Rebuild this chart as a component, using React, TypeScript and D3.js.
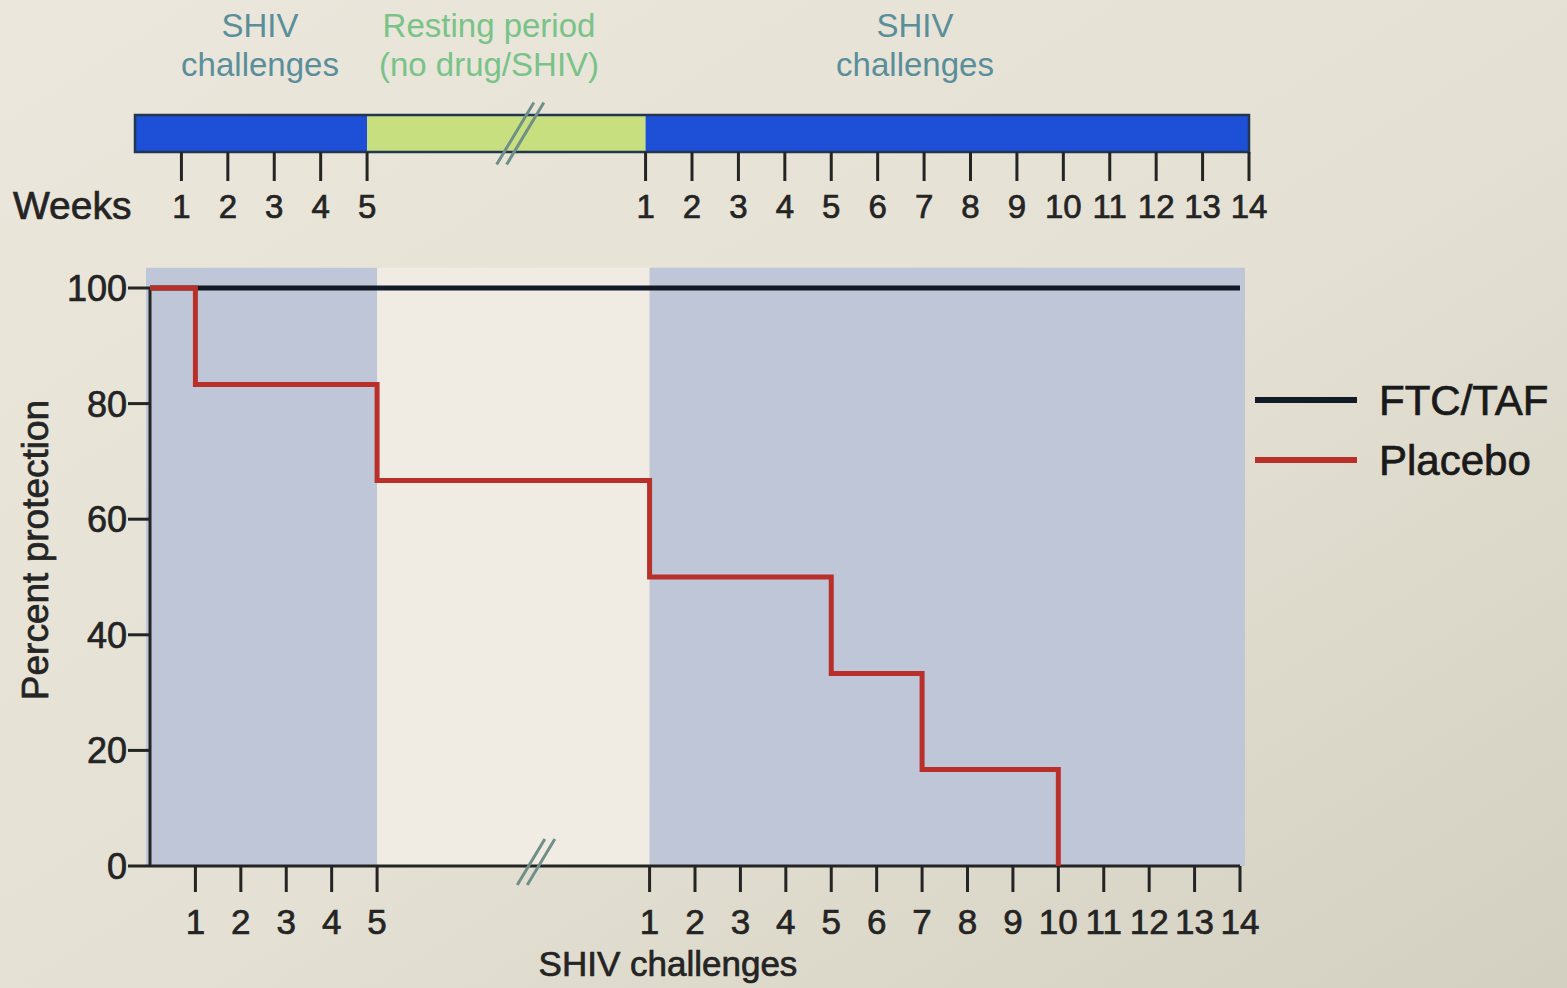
import React, { useEffect } from "react";
import * as d3 from "d3";

// ---- data ----
const yTicks = [0, 20, 40, 60, 80, 100];
const phase1Weeks = [1, 2, 3, 4, 5];
const phase2Weeks = [1, 2, 3, 4, 5, 6, 7, 8, 9, 10, 11, 12, 13, 14];
const PHASE2_OFFSET = 10; // phase 2 week w sits at w + 10 on the continuous axis

const ftcPhase = [1, 2];
const ftcWeek = [0, 14];
const ftcValue = [100, 100];

const placeboPhase = [1, 1, 1, 2, 2, 2, 2];
const placeboWeek = [0, 1, 5, 1, 5, 7, 10];
const placeboValue = [100, 83.3, 66.7, 50, 33.3, 16.7, 0];

const seriesNames = ["FTC/TAF", "Placebo"];
const seriesColors = ["#121a28", "#b9302b"];

const pos = (phase: number, week: number) => (phase === 1 ? week : week + PHASE2_OFFSET);

const W = 1567;
const H = 988;
const FONT = "'Liberation Sans', Arial, sans-serif";
const INK = "#242424";

export default function App() {
  useEffect(() => {
    document.body.style.margin = "0";
  }, []);

  // main plot scales
  const x = d3.scaleLinear().domain([0, 24]).range([150, 1240]);
  const y = d3.scaleLinear().domain([0, 100]).range([866, 288]);
  // timeline scale
  const tx = d3.scaleLinear().domain([0, 24]).range([135, 1249]);

  const line = d3
    .line<[number, number]>()
    .x((d) => x(d[0]))
    .y((d) => y(d[1]))
    .curve(d3.curveStepAfter);

  const ftcPts: [number, number][] = ftcValue.map((v, i) => [pos(ftcPhase[i], ftcWeek[i]), v]);
  const placeboPts: [number, number][] = placeboValue.map((v, i) => [
    pos(placeboPhase[i], placeboWeek[i]),
    v,
  ]);

  const xTicks = [
    ...phase1Weeks.map((w) => ({ w, p: pos(1, w) })),
    ...phase2Weeks.map((w) => ({ w, p: pos(2, w) })),
  ];

  const barTop = 115;
  const barH = 37;
  const shadeTop = y(103.5);

  const breakMark = (cx: number, cy: number, len: number) => {
    const dx = len * 0.3;
    const dy = len / 2;
    return [-5, 5]
      .map((o) => `M${cx + o - dx},${cy + dy}L${cx + o + dx},${cy - dy}`)
      .join("");
  };

  const bold = { stroke: INK, strokeWidth: 0.7 };

  return (
    <svg width={W} height={H} style={{ display: "block" }} fontFamily={FONT}>
      <defs>
        <linearGradient id="bg" x1="0" y1="0" x2="1" y2="1">
          <stop offset="0" stopColor="#ebe7dc" />
          <stop offset="0.55" stopColor="#e4e0d3" />
          <stop offset="1" stopColor="#d3d0c1" />
        </linearGradient>
      </defs>
      <rect width={W} height={H} fill="url(#bg)" />

      {/* top phase labels */}
      <g fontSize={33} textAnchor="middle">
        <text x={260} y={37} fill="#5a8e9a">SHIV</text>
        <text x={260} y={76} fill="#5a8e9a">challenges</text>
        <text x={489} y={37} fill="#79c388">Resting period</text>
        <text x={489} y={76} fill="#79c388">(no drug/SHIV)</text>
        <text x={915} y={37} fill="#5a8e9a">SHIV</text>
        <text x={915} y={76} fill="#5a8e9a">challenges</text>
      </g>

      {/* timeline bar */}
      <rect x={tx(0)} y={barTop} width={tx(5) - tx(0)} height={barH} fill="#1d50d6" />
      <rect x={tx(5)} y={barTop} width={tx(11) - tx(5)} height={barH} fill="#c7df7e" />
      <rect x={tx(11)} y={barTop} width={tx(24) - tx(11)} height={barH} fill="#1d50d6" />
      <rect x={tx(0)} y={barTop} width={tx(24) - tx(0)} height={barH} fill="none" stroke="#22364f" strokeWidth={2.5} />
      <path d={breakMark(tx(8.3), barTop + barH / 2, 62)} stroke="#6f8f88" strokeWidth={3} fill="none" />

      {/* timeline ticks */}
      <g stroke={INK} strokeWidth={3}>
        {xTicks.map((t) => (
          <line key={"tt" + t.p} x1={tx(t.p)} x2={tx(t.p)} y1={barTop + barH} y2={181} />
        ))}
      </g>
      <g fontSize={33} textAnchor="middle" fill={INK} {...bold}>
        {xTicks.map((t) => (
          <text key={"tl" + t.p} x={tx(t.p)} y={218}>{t.w}</text>
        ))}
      </g>
      <text x={13} y={219} fontSize={39} fill={INK} {...bold}>Weeks</text>

      {/* shaded challenge periods */}
      <rect x={x(5)} y={shadeTop} width={x(11) - x(5)} height={y(0) - shadeTop} fill="#f1ece3" />
      <rect x={x(0) - 4} y={shadeTop} width={x(5) - x(0) + 4} height={y(0) - shadeTop} fill="#bfc6d7" />
      <rect x={x(11)} y={shadeTop} width={x(24) - x(11) + 5} height={y(0) - shadeTop} fill="#bfc6d7" />

      {/* y axis */}
      <g stroke={INK} strokeWidth={3}>
        <line x1={x(0)} x2={x(0)} y1={y(100)} y2={y(0)} />
        {yTicks.map((t) => (
          <line key={"yt" + t} x1={x(0) - 22} x2={x(0)} y1={y(t)} y2={y(t)} />
        ))}
      </g>
      <g fontSize={36} textAnchor="end" fill={INK} {...bold}>
        {yTicks.map((t) => (
          <text key={"yl" + t} x={x(0) - 23} y={y(t)} dy="0.36em">{t}</text>
        ))}
      </g>
      <text
        transform="translate(48,550) rotate(-90)"
        fontSize={37}
        textAnchor="middle"
        fill={INK}
        {...bold}
      >
        Percent protection
      </text>

      {/* x axis */}
      <g stroke={INK} strokeWidth={3}>
        <line x1={x(0)} x2={x(24)} y1={y(0)} y2={y(0)} />
        {xTicks.map((t) => (
          <line key={"xt" + t.p} x1={x(t.p)} x2={x(t.p)} y1={y(0)} y2={y(0) + 26} />
        ))}
      </g>
      <path d={breakMark(x(8.5), y(0) - 4, 46)} stroke="#6f8f88" strokeWidth={3} fill="none" />
      <g fontSize={35} textAnchor="middle" fill={INK} {...bold}>
        {xTicks.map((t) => (
          <text key={"xl" + t.p} x={x(t.p)} y={934}>{t.w}</text>
        ))}
      </g>
      <text x={668} y={976} fontSize={35} textAnchor="middle" fill={INK} {...bold}>SHIV challenges</text>

      {/* survival lines */}
      <path d={line(ftcPts) ?? ""} fill="none" stroke={seriesColors[0]} strokeWidth={5} />
      <path d={line(placeboPts) ?? ""} fill="none" stroke={seriesColors[1]} strokeWidth={5} />

      {/* legend */}
      {seriesNames.map((name, i) => (
        <g key={name} transform={`translate(1255,${400 + i * 60})`}>
          <line x1={0} x2={102} y1={0} y2={0} stroke={seriesColors[i]} strokeWidth={6} />
          <text x={124} y={0} dy="0.36em" fontSize={42} fill="#1a1a1a" stroke="#1a1a1a" strokeWidth={0.7}>{name}</text>
        </g>
      ))}
    </svg>
  );
}
